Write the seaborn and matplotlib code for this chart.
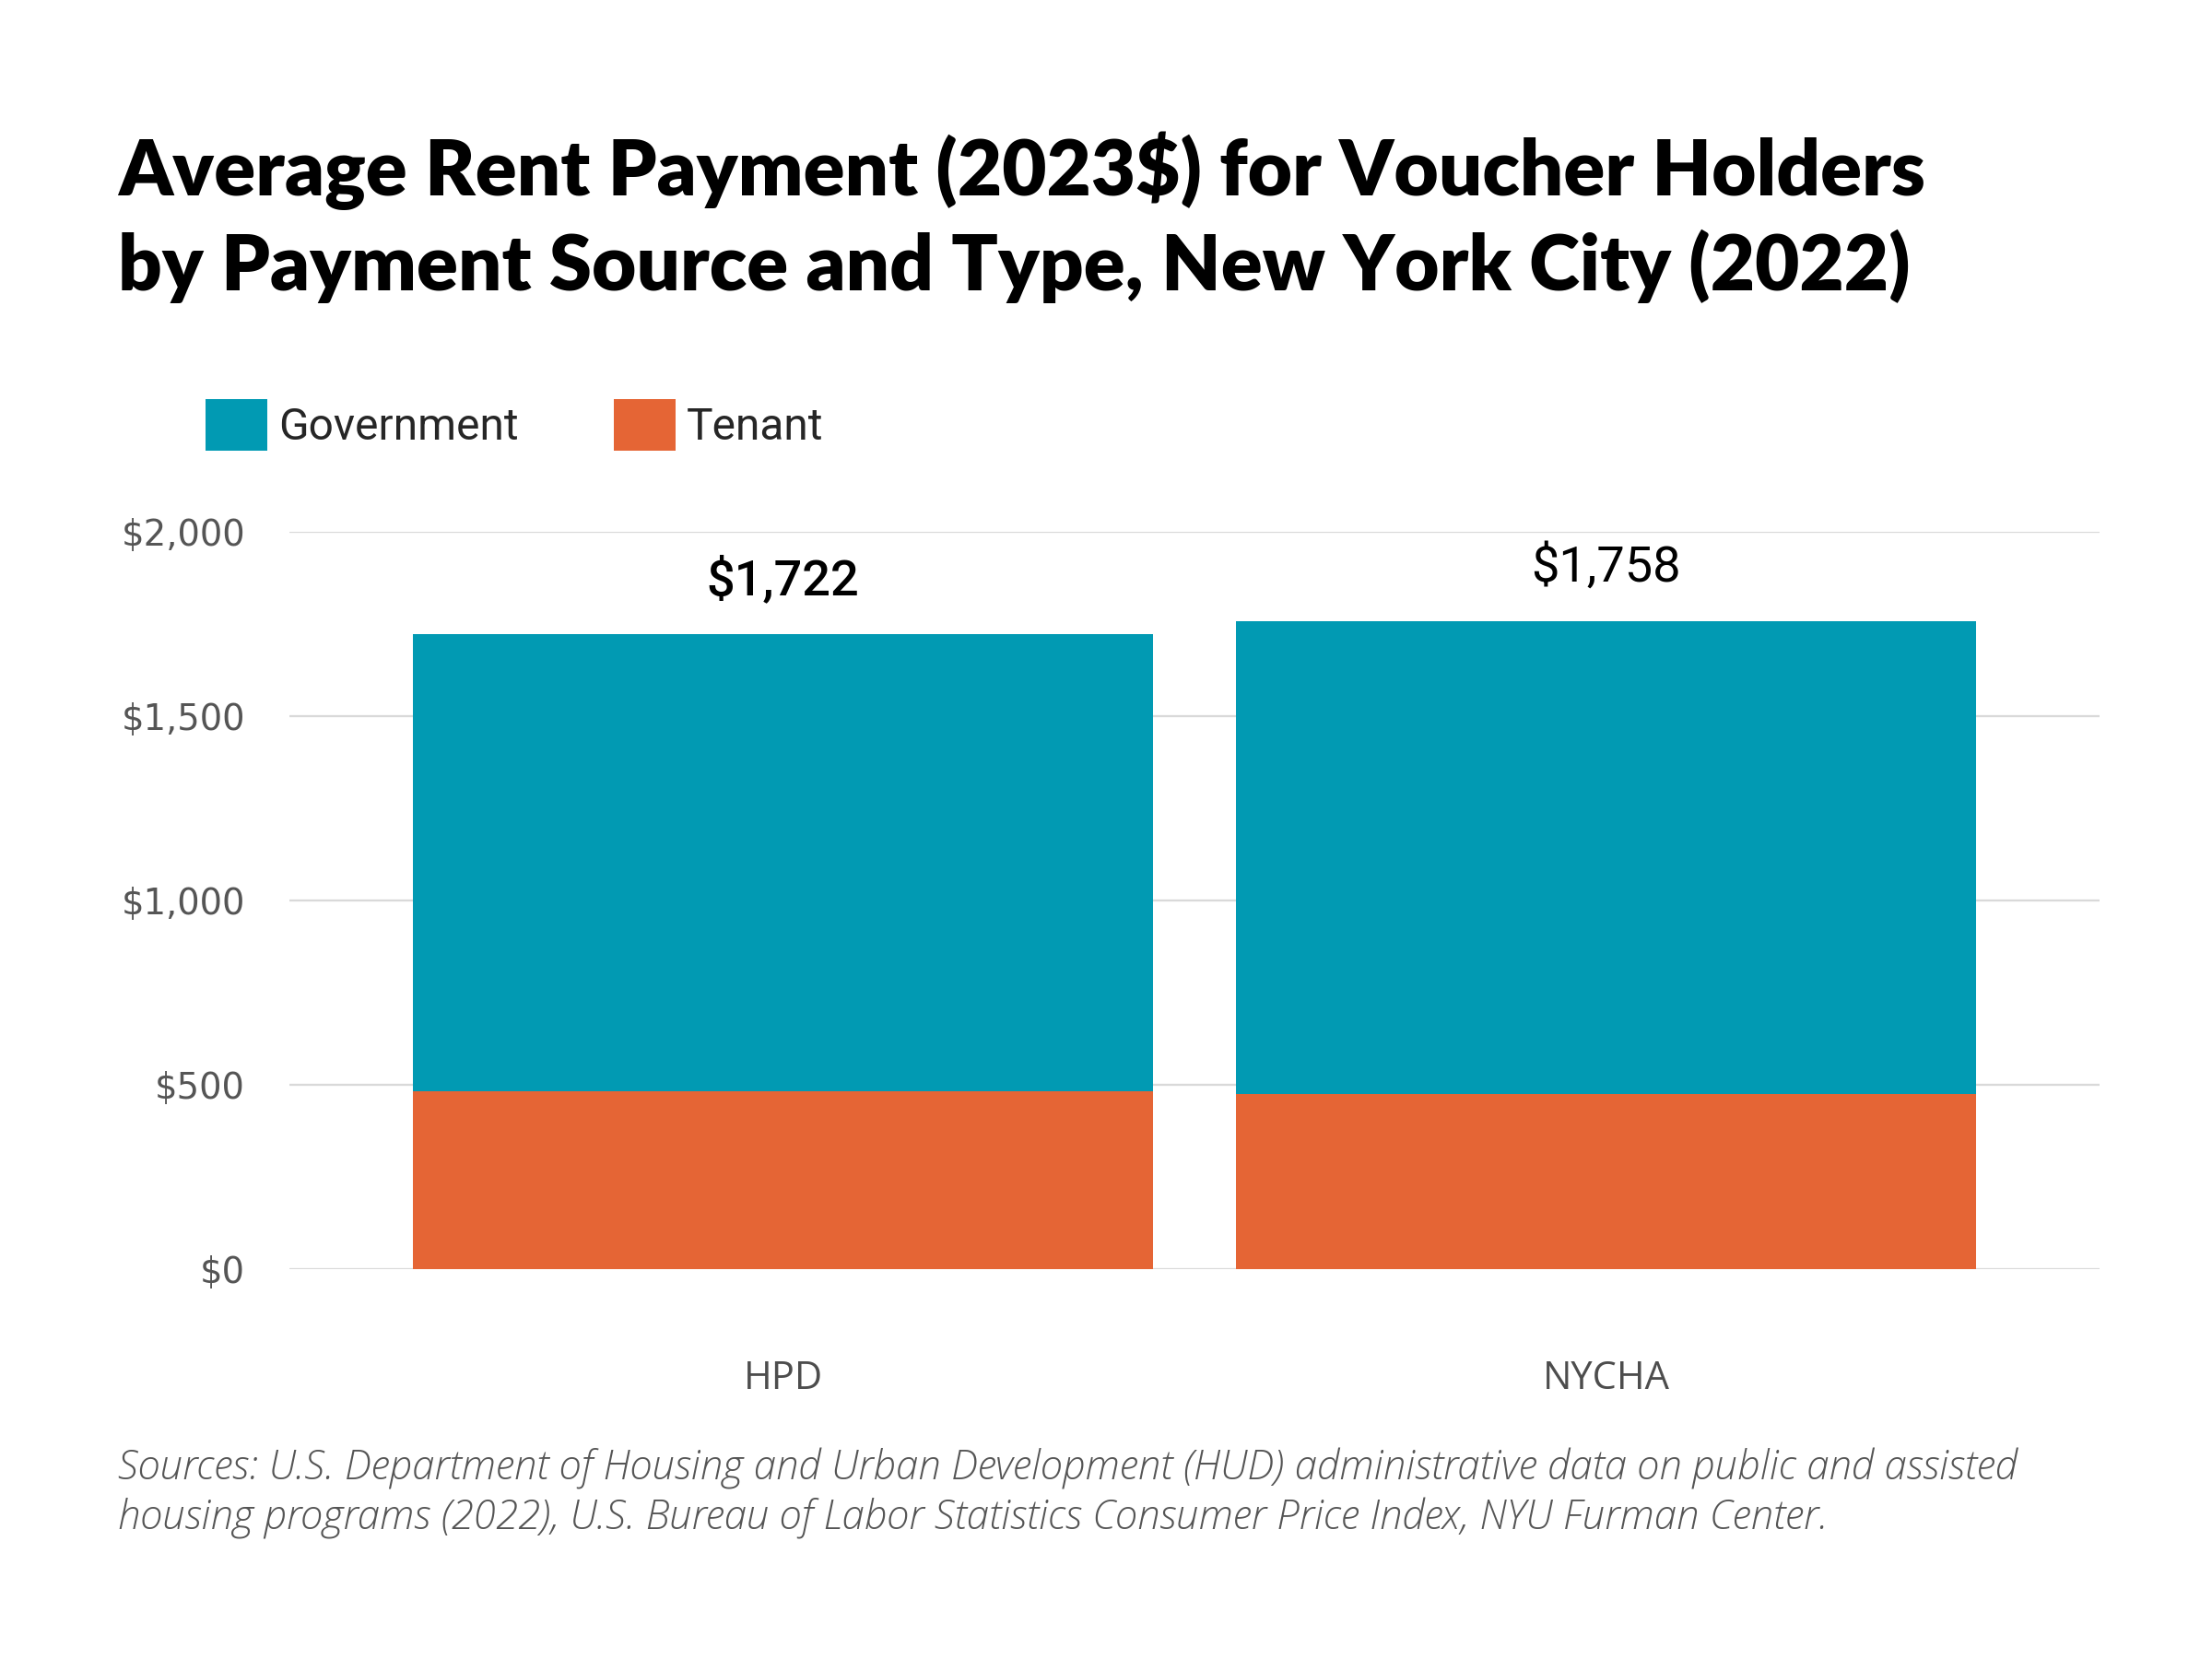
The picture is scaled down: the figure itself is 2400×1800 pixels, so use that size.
import matplotlib
matplotlib.use("Agg")
import matplotlib.pyplot as plt
import seaborn as sns
import pandas as pd
from matplotlib.patches import Patch
from matplotlib.ticker import FuncFormatter

# ---- data ----
programs = ["HPD", "NYCHA"]
totals = [1722, 1758]
tenant = [482, 475]
government = [t - n for t, n in zip(totals, tenant)]
series_names = ["Government", "Tenant"]
total_labels = ["$1,722", "$1,758"]
y_ticks = [0, 500, 1000, 1500, 2000]

title_lines = ["Average Rent Payment (2023$) for Voucher Holders",
               "by Payment Source and Type, New York City (2022)"]
source_lines = ["Sources: U.S. Department of Housing and Urban Development (HUD) administrative data on public and assisted",
                "housing programs (2022), U.S. Bureau of Labor Statistics Consumer Price Index, NYU Furman Center."]

GOV_COLOR = "#019AB3"
TEN_COLOR = "#E56535"

sns.set_theme(style="white")
plt.rcParams["font.family"] = ["Lato", "DejaVu Sans"]

df = pd.DataFrame({
    "program": programs,
    "total": [g + t for g, t in zip(government, tenant)],
    "tenant": tenant,
})

fig = plt.figure(figsize=(16, 12), dpi=150)
ax = fig.add_axes([0.1308, 0.235, 0.8184, 0.4444])

sns.barplot(data=df, x="program", y="total", color=GOV_COLOR, width=0.9,
            linewidth=0, saturation=1, ax=ax, zorder=3)
sns.barplot(data=df, x="program", y="tenant", color=TEN_COLOR, width=0.9,
            linewidth=0, saturation=1, ax=ax, zorder=3)

ax.set_xlim(-0.6, 1.6)
ax.set_ylim(0, 2000)
ax.set_yticks(y_ticks)
ax.yaxis.set_major_formatter(FuncFormatter(lambda v, p: f"${int(v):,}"))
ax.grid(axis="y", color="#d9d9d9", linewidth=1.1, zorder=0)
ax.grid(axis="x", visible=False)
for s in ax.spines.values():
    s.set_visible(False)
ax.set_xlabel("")
ax.set_ylabel("")
ax.tick_params(axis="y", length=0, pad=23, labelsize=18.5, labelcolor="#555555")
ax.tick_params(axis="x", length=0, pad=47, labelsize=20, labelcolor="#4d4d4d")
for lab in ax.get_yticklabels():
    lab.set_fontfamily(["DejaVu Sans"])
for lab in ax.get_xticklabels():
    lab.set_fontfamily(["Open Sans", "DejaVu Sans"])

# total labels
weights = ["medium", "normal"]
for i, (tot, lab) in enumerate(zip(df["total"], total_labels)):
    ax.annotate(lab, xy=(i, tot), xytext=(0, 28), textcoords="offset points",
                ha="center", va="center", fontsize=26, color="#000000",
                family=["Roboto", "DejaVu Sans"], fontweight=weights[i],
                annotation_clip=False)

# legend
handles = [Patch(facecolor=GOV_COLOR, edgecolor="none"),
           Patch(facecolor=TEN_COLOR, edgecolor="none")]
fig.legend(handles, series_names, loc="center left",
           bbox_to_anchor=(223 / 2400, 1 - 461 / 1800), ncol=2, frameon=False,
           handlelength=1.4, handleheight=1.4, handletextpad=0.25,
           columnspacing=2.15, borderaxespad=0, borderpad=0,
           prop={"family": ["Roboto", "DejaVu Sans"], "size": 23})

# title (two lines, baselines placed)
for line, ybase in zip(title_lines, [212, 315]):
    fig.text(128 / 2400, 1 - ybase / 1800, line, ha="left", va="baseline",
             fontsize=40, fontweight="heavy", color="#000000",
             family=["Lato", "DejaVu Sans"])

# source
for line, ybase in zip(source_lines, [1605, 1660]):
    fig.text(128 / 2400, 1 - ybase / 1800, line, ha="left", va="baseline",
             fontsize=21, fontstyle="italic", fontweight="light", color="#555555",
             family=["Open Sans", "DejaVu Sans"])

fig.savefig("out.png", dpi=150, facecolor="white")
